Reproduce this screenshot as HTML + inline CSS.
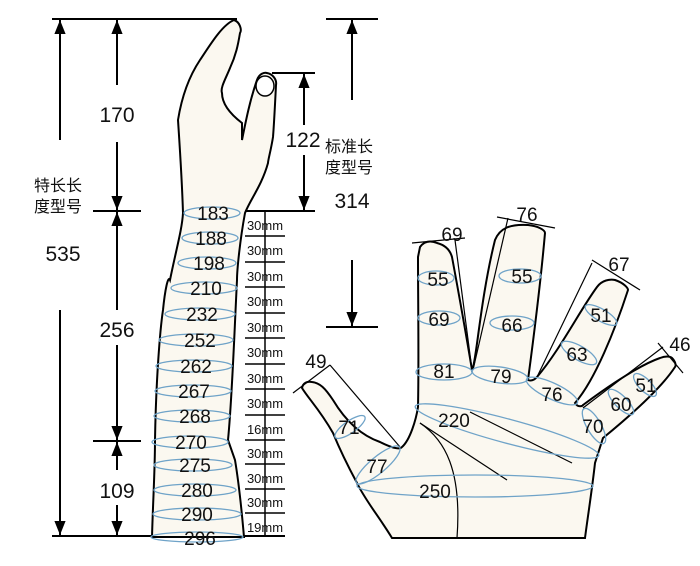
<!DOCTYPE html>
<html><head><meta charset="utf-8"><style>
html,body{margin:0;padding:0;background:#fff;}
svg{display:block;}
text{font-family:"Liberation Sans","Noto Sans CJK SC",sans-serif;fill:#111;}
</style></head><body>
<svg width="700" height="566" viewBox="0 0 700 566" xmlns="http://www.w3.org/2000/svg">
<defs>
<marker id="a" viewBox="0 0 10 10" refX="10" refY="5" markerWidth="7" markerHeight="9" orient="auto-start-reverse"><path d="M0,1 L10,5 L0,9 Z" fill="#000"/></marker>
</defs>
<g stroke="#000" stroke-width="2" fill="none">
<line x1="52" y1="19" x2="237" y2="19"/>
<line x1="52" y1="536" x2="285" y2="536"/>
<line x1="93" y1="211" x2="141" y2="211"/>
<line x1="93" y1="441" x2="141" y2="441"/>
<line x1="272" y1="73" x2="315" y2="73"/>
<line x1="245" y1="211" x2="315" y2="211"/>
<line x1="326" y1="19" x2="378" y2="19"/>
<line x1="326" y1="327" x2="378" y2="327"/>
<line x1="60" y1="140" x2="60" y2="20" marker-end="url(#a)"/>
<line x1="60" y1="310" x2="60" y2="535" marker-end="url(#a)"/>
<line x1="117" y1="85" x2="117" y2="20" marker-end="url(#a)"/>
<line x1="117" y1="142" x2="117" y2="210" marker-end="url(#a)"/>
<line x1="117" y1="310" x2="117" y2="212" marker-end="url(#a)"/>
<line x1="117" y1="345" x2="117" y2="440" marker-end="url(#a)"/>
<line x1="117" y1="470" x2="117" y2="442" marker-end="url(#a)"/>
<line x1="117" y1="505" x2="117" y2="535" marker-end="url(#a)"/>
<line x1="304" y1="125" x2="304" y2="74" marker-end="url(#a)"/>
<line x1="304" y1="155" x2="304" y2="210" marker-end="url(#a)"/>
<line x1="352" y1="100" x2="352" y2="20" marker-end="url(#a)"/>
<line x1="352" y1="260" x2="352" y2="326" marker-end="url(#a)"/>
</g>
<!-- glove -->
<path d="M234,20 C240,22 242,30 240,33 C238,45 236,55 230,68 C226,78 220,88 222,93 C222,100 225,110 242,123 L242,140 C246,120 250,100 257,80 C259,74 264,72 267,73 C273,74 277,80 276,85 C275,105 274,125 273,137 C271,150 268,160 268,163 C262,185 250,200 245,213 C240,240 237,270 237,280 C234,340 232,400 228,440 L235,460 C240,490 242,515 244,537 L152,537 C153,500 155,470 155,440 C156,380 160,330 163,310 C165,290 168,275 170,280 C176,250 182,230 183,213 C182,180 180,150 178,120 C182,95 190,75 200,60 C210,45 222,25 234,20 Z" fill="#fbf8f0" stroke="#000" stroke-width="2"/>
<ellipse cx="265" cy="86" rx="9" ry="10" fill="#fff" stroke="#000" stroke-width="1.5"/>
<g fill="none" stroke="#6fa3c8" stroke-width="1.3">
<ellipse cx="212" cy="213" rx="28" ry="6"/>
<ellipse cx="210" cy="238" rx="28" ry="6"/>
<ellipse cx="207" cy="263" rx="29" ry="6"/>
<ellipse cx="204" cy="288" rx="33" ry="6"/>
<ellipse cx="200" cy="314" rx="35" ry="6"/>
<ellipse cx="196" cy="340" rx="37" ry="6"/>
<ellipse cx="194" cy="366" rx="38" ry="6"/>
<ellipse cx="193" cy="391" rx="38" ry="6"/>
<ellipse cx="192" cy="416" rx="38" ry="6"/>
<ellipse cx="190" cy="442" rx="38" ry="6"/>
<ellipse cx="193" cy="465" rx="39" ry="6"/>
<ellipse cx="195" cy="490" rx="41" ry="6"/>
<ellipse cx="197" cy="514" rx="44" ry="6"/>
<ellipse cx="197" cy="537" rx="46" ry="5"/>
</g>
<g font-size="19" text-anchor="middle">
<text x="213" y="220">183</text><text x="211" y="245">188</text><text x="209" y="270">198</text>
<text x="206" y="295">210</text><text x="202" y="321">232</text><text x="200" y="347">252</text>
<text x="196" y="373">262</text><text x="194" y="398">267</text><text x="195" y="423">268</text>
<text x="191" y="449">270</text><text x="195" y="472">275</text><text x="197" y="497">280</text>
<text x="197" y="521">290</text><text x="200" y="545">296</text>
</g>
<!-- scale -->
<g stroke="#000" stroke-width="1.5">
<line x1="265" y1="211" x2="265" y2="537"/>
<line x1="245" y1="236" x2="285" y2="236"/><line x1="245" y1="262" x2="285" y2="262"/>
<line x1="245" y1="287" x2="285" y2="287"/><line x1="245" y1="313" x2="285" y2="313"/>
<line x1="245" y1="338" x2="285" y2="338"/><line x1="245" y1="364" x2="285" y2="364"/>
<line x1="245" y1="389" x2="285" y2="389"/><line x1="245" y1="415" x2="285" y2="415"/>
<line x1="245" y1="440" x2="285" y2="440"/><line x1="245" y1="464" x2="285" y2="464"/>
<line x1="245" y1="489" x2="285" y2="489"/><line x1="245" y1="513" x2="285" y2="513"/>
</g>
<g font-size="13" text-anchor="middle">
<text x="265" y="230">30mm</text><text x="265" y="255">30mm</text><text x="265" y="281">30mm</text>
<text x="265" y="306">30mm</text><text x="265" y="332">30mm</text><text x="265" y="357">30mm</text>
<text x="265" y="383">30mm</text><text x="265" y="408">30mm</text><text x="265" y="434">16mm</text>
<text x="265" y="458">30mm</text><text x="265" y="483">30mm</text><text x="265" y="507">30mm</text>
<text x="265" y="532">19mm</text>
</g>
<g font-size="21" text-anchor="middle">
<text x="117" y="122">170</text><text x="117" y="337">256</text><text x="117" y="498">109</text>
<text x="63" y="261">535</text><text x="303" y="147">122</text><text x="352" y="208">314</text>
</g>
<g font-size="16">
<text x="34" y="191">特长长</text><text x="34" y="212">度型号</text>
<text x="325" y="152">标准长</text><text x="325" y="173">度型号</text>
</g>
<!-- hand -->
<path d="M302,388 C303,383 307,381 312,382 C320,383 325,388 333,400 C345,420 360,435 380,442 C392,448 400,450 402,447 C410,440 416,420 418,407 C419,360 418,300 418,257 L420,247 C425,240 432,241 437,243 C445,245 450,250 452,257 C460,300 467,340 472,370 C476,366 480,300 495,240 C500,228 510,224 528,225 C538,226 545,230 545,233 C540,290 532,350 528,380 C533,382 536,378 537,377 C560,350 580,310 597,287 C602,280 610,279 615,280 C624,283 628,288 628,290 C615,330 595,380 575,403 C578,408 583,406 583,405 C610,385 640,365 660,358 C665,356 670,356 672,358 C676,362 676,366 675,367 C660,390 625,420 603,438 L595,463 C592,490 588,515 585,538 L392,538 C380,518 365,500 357,483 C350,470 340,450 333,433 C320,410 308,398 302,388 Z" fill="#fbf8f0" stroke="#000" stroke-width="2"/>
<g stroke="#000" stroke-width="1.2" fill="none">
<line x1="293" y1="393" x2="330" y2="365"/>
<line x1="330" y1="365" x2="400" y2="447"/>
<line x1="412" y1="243" x2="465" y2="238"/>
<line x1="455" y1="240" x2="472" y2="370"/>
<line x1="497" y1="217" x2="555" y2="228"/>
<line x1="508" y1="218" x2="473" y2="370"/>
<line x1="592" y1="260" x2="640" y2="290"/>
<line x1="592" y1="263" x2="537" y2="377"/>
<line x1="658" y1="343" x2="683" y2="373"/>
<line x1="663" y1="347" x2="583" y2="408"/>
<path d="M420,423 C445,440 462,470 457,538"/>
<line x1="420" y1="423" x2="507" y2="480"/>
<line x1="470" y1="412" x2="572" y2="463"/>
</g>
<g fill="none" stroke="#6fa3c8" stroke-width="1.3">
<ellipse cx="507" cy="431" rx="95" ry="12" transform="rotate(15 507 431)"/>
<ellipse cx="475" cy="486" rx="118" ry="11"/>
<ellipse cx="378" cy="465" rx="28" ry="8" transform="rotate(-40 378 465)"/>
<ellipse cx="350" cy="427" rx="18" ry="6" transform="rotate(-35 350 427)"/>
<ellipse cx="436" cy="278" rx="18" ry="7"/>
<ellipse cx="439" cy="318" rx="21" ry="7"/>
<ellipse cx="444" cy="372" rx="28" ry="8"/>
<ellipse cx="520" cy="276" rx="21" ry="7"/>
<ellipse cx="512" cy="323" rx="22" ry="7"/>
<ellipse cx="500" cy="375" rx="28" ry="8" transform="rotate(8 500 375)"/>
<ellipse cx="552" cy="391" rx="28" ry="8" transform="rotate(25 552 391)"/>
<ellipse cx="601" cy="315" rx="18" ry="6" transform="rotate(30 601 315)"/>
<ellipse cx="579" cy="353" rx="20" ry="7" transform="rotate(30 579 353)"/>
<ellipse cx="645" cy="385" rx="15" ry="6" transform="rotate(45 645 385)"/>
<ellipse cx="621" cy="402" rx="17" ry="6" transform="rotate(45 621 402)"/>
<ellipse cx="594" cy="426" rx="20" ry="7" transform="rotate(60 594 426)"/>
</g>
<g font-size="19" text-anchor="middle">
<text x="452" y="241">69</text><text x="527" y="221">76</text><text x="619" y="271">67</text>
<text x="680" y="351">46</text><text x="316" y="368">49</text>
<text x="438" y="286">55</text><text x="522" y="283">55</text>
<text x="439" y="326">69</text><text x="512" y="332">66</text>
<text x="601" y="322">51</text><text x="577" y="361">63</text>
<text x="444" y="378">81</text><text x="501" y="383">79</text><text x="552" y="401">76</text>
<text x="621" y="411">60</text><text x="646" y="392">51</text><text x="593" y="433">70</text>
<text x="349" y="434">71</text><text x="454" y="427">220</text><text x="377" y="473">77</text>
<text x="435" y="498">250</text>
</g>
</svg>
</body></html>
